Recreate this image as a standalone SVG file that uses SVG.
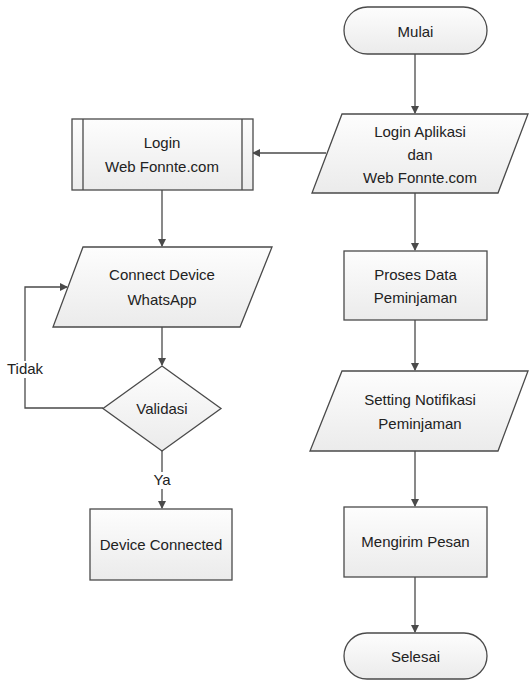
<svg xmlns="http://www.w3.org/2000/svg" width="529" height="680" viewBox="0 0 529 680">
<style>
.s{fill:url(#g);stroke:#4a4a4a;stroke-width:1.3}
.c{fill:none;stroke:#4a4a4a;stroke-width:1.3}
text{font-family:"Liberation Sans",Arial,sans-serif;font-size:15px;fill:#222;text-anchor:middle}
.l{text-anchor:start}
</style>
<defs>
<linearGradient id="g" x1="0" y1="0" x2="0" y2="1">
<stop offset="0" stop-color="#fdfdfd"/>
<stop offset="1" stop-color="#ebebeb"/>
</linearGradient>
<marker id="a" markerWidth="8" markerHeight="8" refX="7" refY="4" orient="auto" markerUnits="userSpaceOnUse">
<path d="M0,0 L8,4 L0,8 Z" fill="#4a4a4a"/>
</marker>
</defs>
<rect width="529" height="680" fill="#fff"/>
<g id="connectors">
<path class="c" d="M415,54 V113" marker-end="url(#a)"/>
<path class="c" d="M326,153 H253" marker-end="url(#a)"/>
<path class="c" d="M162,190 V246" marker-end="url(#a)"/>
<path class="c" d="M415,193 V250" marker-end="url(#a)"/>
<path class="c" d="M162,327 V365" marker-end="url(#a)"/>
<path class="c" d="M103,408 H25 V287 H67" marker-end="url(#a)"/>
<path class="c" d="M162,451 V508" marker-end="url(#a)"/>
<path class="c" d="M415,320 V370" marker-end="url(#a)"/>
<path class="c" d="M415,451 V506" marker-end="url(#a)"/>
<path class="c" d="M415,577 V632" marker-end="url(#a)"/>
<rect x="6" y="361" width="40" height="17" fill="#fff"/>
<text class="l" x="7" y="374">Tidak</text>
<rect x="150" y="472" width="24" height="17" fill="#fff"/>
<text x="162" y="485">Ya</text>
</g>
<g id="mulai">
<rect class="s" x="344" y="7" width="143" height="47" rx="23.5"/>
<text x="415.5" y="37">Mulai</text>
</g>
<g id="login-aplikasi">
<path class="s" d="M342,114 H528 L498,193 H312 Z"/>
<text x="420" y="137">Login Aplikasi</text>
<text x="420" y="160">dan</text>
<text x="420" y="183">Web Fonnte.com</text>
</g>
<g id="login-web">
<rect class="s" x="72" y="119" width="181" height="71"/>
<path class="c" d="M83,119 V190 M242,119 V190"/>
<text x="162" y="148">Login</text>
<text x="162" y="172">Web Fonnte.com</text>
</g>
<g id="connect-device">
<path class="s" d="M83,247 H272 L240,327 H53 Z"/>
<text x="162" y="280">Connect Device</text>
<text x="162" y="305">WhatsApp</text>
</g>
<g id="validasi">
<path class="s" d="M162,366 L221,408.5 L162,451 L103,408.5 Z"/>
<text x="162" y="414">Validasi</text>
</g>
<g id="device-connected">
<rect class="s" x="90" y="509" width="142" height="71"/>
<text x="161" y="550">Device Connected</text>
</g>
<g id="proses-data">
<rect class="s" x="344" y="251" width="143" height="69"/>
<text x="415.5" y="280">Proses Data</text>
<text x="415.5" y="303">Peminjaman</text>
</g>
<g id="setting-notifikasi">
<path class="s" d="M342,371 H528 L498,451 H310 Z"/>
<text x="420" y="405">Setting Notifikasi</text>
<text x="420" y="429">Peminjaman</text>
</g>
<g id="mengirim-pesan">
<rect class="s" x="344" y="507" width="143" height="70"/>
<text x="415.5" y="547">Mengirim Pesan</text>
</g>
<g id="selesai">
<rect class="s" x="344" y="633" width="143" height="46" rx="23"/>
<text x="415.5" y="662">Selesai</text>
</g>
</svg>
